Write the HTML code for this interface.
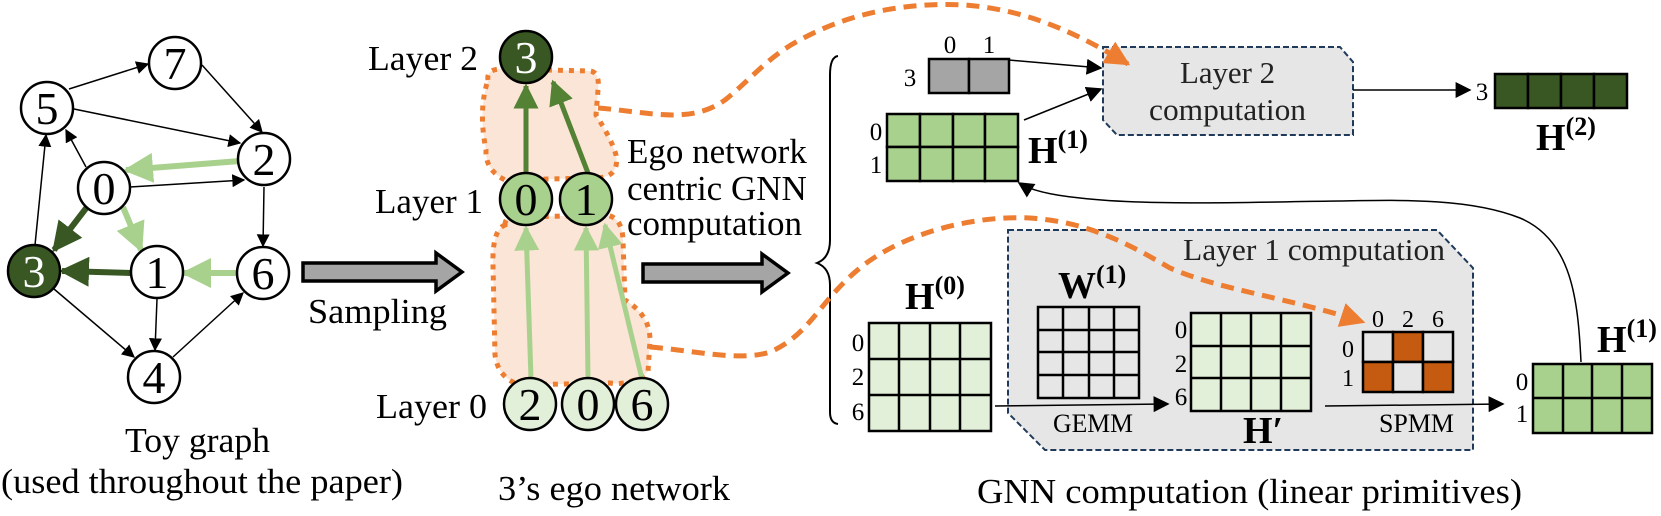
<!DOCTYPE html>
<html><head><meta charset="utf-8"><style>
html,body{margin:0;padding:0;background:#fff;}
svg{display:block;font-family:"Liberation Serif",serif;}
</style></head><body>
<svg width="1661" height="516" viewBox="0 0 1661 516" xmlns="http://www.w3.org/2000/svg">
<defs>
<marker id="a" viewBox="0 0 10 10" refX="9" refY="5" markerWidth="13" markerHeight="13" markerUnits="userSpaceOnUse" orient="auto"><path d="M0,0L10,5L0,10z" fill="#000"/></marker>
<marker id="ab" viewBox="0 0 10 10" refX="9" refY="5" markerWidth="16" markerHeight="16" markerUnits="userSpaceOnUse" orient="auto"><path d="M0,0L10,5L0,10z" fill="#000"/></marker>
<marker id="lg" viewBox="0 0 10 10" refX="9" refY="5" markerWidth="5" markerHeight="5" orient="auto"><path d="M0,0L10,5L0,10z" fill="#a9d18e"/></marker>
<marker id="dg" viewBox="0 0 10 10" refX="9" refY="5" markerWidth="5" markerHeight="5" orient="auto"><path d="M0,0L10,5L0,10z" fill="#548235"/></marker>
<marker id="dg2" viewBox="0 0 10 10" refX="9" refY="5" markerWidth="5" markerHeight="5" orient="auto"><path d="M0,0L10,5L0,10z" fill="#385723"/></marker>
<marker id="or" viewBox="0 0 10 10" refX="9" refY="5" markerWidth="5" markerHeight="5" orient="auto"><path d="M0,0L10,5L0,10z" fill="#ed7d31"/></marker>
</defs>

<g stroke="#000" stroke-width="1.5" fill="none">
<line x1="69" y1="89" x2="148" y2="64" marker-end="url(#a)"/>
<line x1="202" y1="65" x2="262" y2="132" marker-end="url(#a)"/>
<line x1="74" y1="109" x2="240" y2="143" marker-end="url(#a)"/>
<line x1="130" y1="187" x2="244" y2="180" marker-end="url(#a)"/>
<line x1="86" y1="167" x2="66" y2="130" marker-end="url(#a)"/>
<line x1="35" y1="245" x2="46" y2="135" marker-end="url(#a)"/>
<line x1="264" y1="187" x2="263" y2="246" marker-end="url(#a)"/>
<line x1="54" y1="289" x2="134" y2="357" marker-end="url(#a)"/>
<line x1="157" y1="299" x2="155" y2="350" marker-end="url(#a)"/>
<line x1="173" y1="357" x2="243" y2="293" marker-end="url(#a)"/>
</g>
<g fill="none" stroke-width="6">
<line x1="240" y1="161" x2="126" y2="170" stroke="#a9d18e" marker-end="url(#lg)"/>
<line x1="123" y1="207" x2="141" y2="250" stroke="#a9d18e" marker-end="url(#lg)"/>
<line x1="238" y1="273" x2="184" y2="273" stroke="#a9d18e" marker-end="url(#lg)"/>
<line x1="131" y1="273" x2="62" y2="271" stroke="#385723" marker-end="url(#dg2)"/>
<line x1="87" y1="207" x2="54" y2="250" stroke="#385723" marker-end="url(#dg2)"/>
</g>
<g stroke="#000" stroke-width="2.5" fill="#fff">
<circle cx="175" cy="63" r="26"/>
<circle cx="47" cy="108" r="26"/>
<circle cx="264" cy="159" r="26"/>
<circle cx="104" cy="188" r="26"/>
<circle cx="34" cy="271" r="26" fill="#385723"/>
<circle cx="157" cy="272" r="26"/>
<circle cx="263" cy="273" r="26"/>
<circle cx="154" cy="377" r="26"/>
</g>
<g font-size="46" text-anchor="middle">
<text x="175" y="79">7</text><text x="47" y="124">5</text><text x="264" y="175">2</text>
<text x="104" y="204">0</text><text x="34" y="287" fill="#fff">3</text><text x="157" y="288">1</text>
<text x="263" y="289">6</text><text x="154" y="393">4</text>
</g>
<g font-size="35">
<text x="125" y="452" textLength="145" lengthAdjust="spacingAndGlyphs">Toy graph</text>
<text x="1" y="493" textLength="402" lengthAdjust="spacingAndGlyphs">(used throughout the paper)</text>
<text x="498" y="500" textLength="232" lengthAdjust="spacingAndGlyphs">3’s ego network</text>
<text x="977" y="503" textLength="545" lengthAdjust="spacingAndGlyphs">GNN computation (linear primitives)</text>
</g>
<path d="M303,263H436V253L462,272L436,291V281H303Z" fill="#a5a5a5" stroke="#000" stroke-width="3.5"/>
<text x="308" y="323" font-size="35" textLength="139" lengthAdjust="spacingAndGlyphs">Sampling</text>

<path d="M488,80 Q486,68 505,69 L590,71 Q600,72 598,90 L596,115 Q612,140 616,155 Q620,178 595,178 L505,180 Q485,170 486,150 Q478,110 488,80Z" fill="#fbe5d6" stroke="#ed7d31" stroke-width="5" stroke-dasharray="5,6"/>
<path d="M505,225 Q505,213 525,217 L600,215 Q622,213 623,240 L625,300 Q650,315 650,340 L648,372 Q630,386 610,383 L520,385 Q498,378 495,355 L493,265 Q492,230 505,225Z" fill="#fbe5d6" stroke="#ed7d31" stroke-width="5" stroke-dasharray="5,6"/>
<g fill="none" stroke-width="5">
<line x1="526" y1="173" x2="526" y2="86" stroke="#548235" marker-end="url(#dg)"/>
<line x1="588" y1="173" x2="553" y2="82" stroke="#548235" marker-end="url(#dg)"/>
<line x1="531" y1="379" x2="526" y2="228" stroke="#a9d18e" marker-end="url(#lg)"/>
<line x1="588" y1="379" x2="586" y2="228" stroke="#a9d18e" marker-end="url(#lg)"/>
<line x1="642" y1="379" x2="605" y2="225" stroke="#a9d18e" marker-end="url(#lg)"/>
</g>
<g stroke="#000" stroke-width="2.5">
<circle cx="526" cy="57" r="26" fill="#385723"/>
<circle cx="526" cy="199" r="26" fill="#a9d18e"/>
<circle cx="586" cy="199" r="26" fill="#a9d18e"/>
<circle cx="530" cy="404" r="26" fill="#e2f0d9"/>
<circle cx="588" cy="404" r="26" fill="#e2f0d9"/>
<circle cx="642" cy="404" r="26" fill="#e2f0d9"/>
</g>
<g font-size="46" text-anchor="middle">
<text x="526" y="73" fill="#fff">3</text><text x="526" y="215">0</text><text x="586" y="215">1</text>
<text x="530" y="420">2</text><text x="588" y="420">0</text><text x="642" y="420">6</text>
</g>
<g font-size="35">
<text x="368" y="70" textLength="110" lengthAdjust="spacingAndGlyphs">Layer 2</text>
<text x="375" y="213" textLength="108" lengthAdjust="spacingAndGlyphs">Layer 1</text>
<text x="376" y="418" textLength="111" lengthAdjust="spacingAndGlyphs">Layer 0</text>
<text x="627" y="163">Ego network</text><text x="627" y="200">centric GNN</text><text x="627" y="235">computation</text>
</g>
<path d="M643,264H762V254L788,273L762,292V282H643Z" fill="#a5a5a5" stroke="#000" stroke-width="3.5"/>
<path d="M838,56 Q830,57 830,75 L830,240 Q830,258 817,263 Q830,268 830,285 L830,412 Q830,423 838,424" fill="none" stroke="#000" stroke-width="2"/>

<path d="M1103,47H1340L1353,62V135H1117L1103,120Z" fill="#e7e6e6" stroke="#1f3a5a" stroke-width="2" stroke-dasharray="6,3"/>
<text x="1180" y="83" font-size="31" fill="#222" textLength="95" lengthAdjust="spacingAndGlyphs">Layer 2</text>
<text x="1149" y="120" font-size="31" fill="#222" textLength="157" lengthAdjust="spacingAndGlyphs">computation</text>
<g stroke="#000" stroke-width="2.5">
<rect x="929" y="59" width="40" height="34" fill="#a5a5a5"/><rect x="969" y="59" width="40" height="34" fill="#a5a5a5"/>
</g>
<g font-size="25" text-anchor="middle"><text x="950" y="53">0</text><text x="989" y="53">1</text><text x="910" y="86">3</text></g>

<path d="M1008,230H1437L1473,268V450H1045L1008,413Z" fill="#e7e6e6" stroke="#1f3a5a" stroke-width="2" stroke-dasharray="6,3"/>
<text x="1183" y="260" font-size="31" fill="#222" textLength="262" lengthAdjust="spacingAndGlyphs">Layer 1 computation</text>

<g stroke="#000" stroke-width="1.5" fill="none">
<line x1="1009" y1="60" x2="1101" y2="68" marker-end="url(#ab)"/>
<line x1="1024" y1="120" x2="1101" y2="89" marker-end="url(#ab)"/>
<line x1="1353" y1="90" x2="1470" y2="90" marker-end="url(#ab)"/>
<line x1="995" y1="406" x2="1168" y2="404" marker-end="url(#ab)"/>
<line x1="1325" y1="406" x2="1503" y2="404" marker-end="url(#ab)"/>
<path d="M1581,362 C1578,300 1572,240 1520,218 C1470,198 1400,200 1340,201 C1250,202 1150,206 1080,198 C1050,195 1030,190 1019,183" marker-end="url(#ab)"/>
</g>
<g stroke="#000" stroke-width="2.5" fill="#a9d18e">
<rect x="887" y="114" width="33" height="33"/><rect x="920" y="114" width="33" height="33"/><rect x="953" y="114" width="32" height="33"/><rect x="985" y="114" width="33" height="33"/>
<rect x="887" y="147" width="33" height="34"/><rect x="920" y="147" width="33" height="34"/><rect x="953" y="147" width="32" height="34"/><rect x="985" y="147" width="33" height="34"/>
</g>
<g font-size="25" text-anchor="middle"><text x="876" y="140">0</text><text x="876" y="173">1</text></g>
<text x="1028" y="163" font-size="38" font-weight="bold">H<tspan font-size="26" dy="-15">(1)</tspan></text>
<g stroke="#000" stroke-width="2.5" fill="#385723">
<rect x="1495" y="74" width="33" height="34"/><rect x="1528" y="74" width="33" height="34"/><rect x="1561" y="74" width="33" height="34"/><rect x="1594" y="74" width="33" height="34"/>
</g>
<text x="1482" y="100" font-size="25" text-anchor="middle">3</text>
<text x="1536" y="150" font-size="38" font-weight="bold">H<tspan font-size="26" dy="-15">(2)</tspan></text>

<g stroke="#000" stroke-width="2.5" fill="#e2f0d9">
<rect x="869" y="323" width="122" height="108"/>
<line x1="899" y1="323" x2="899" y2="431"/><line x1="930" y1="323" x2="930" y2="431"/><line x1="960" y1="323" x2="960" y2="431"/>
<line x1="869" y1="359" x2="991" y2="359"/><line x1="869" y1="395" x2="991" y2="395"/>
</g>
<g font-size="25" text-anchor="middle"><text x="858" y="351">0</text><text x="858" y="385">2</text><text x="858" y="420">6</text></g>
<text x="905" y="309" font-size="38" font-weight="bold">H<tspan font-size="26" dy="-15">(0)</tspan></text>
<g stroke="#000" stroke-width="2.5" fill="#e7e6e6">
<rect x="1038" y="307" width="101" height="91"/>
<line x1="1063" y1="307" x2="1063" y2="398"/><line x1="1089" y1="307" x2="1089" y2="398"/><line x1="1114" y1="307" x2="1114" y2="398"/>
<line x1="1038" y1="330" x2="1139" y2="330"/><line x1="1038" y1="352" x2="1139" y2="352"/><line x1="1038" y1="375" x2="1139" y2="375"/>
</g>
<text x="1058" y="298" font-size="38" font-weight="bold">W<tspan font-size="26" dy="-15">(1)</tspan></text>
<g stroke="#000" stroke-width="2.5" fill="#e2f0d9">
<rect x="1191" y="313" width="120" height="98"/>
<line x1="1221" y1="313" x2="1221" y2="411"/><line x1="1251" y1="313" x2="1251" y2="411"/><line x1="1281" y1="313" x2="1281" y2="411"/>
<line x1="1191" y1="346" x2="1311" y2="346"/><line x1="1191" y1="378" x2="1311" y2="378"/>
</g>
<g font-size="25" text-anchor="middle"><text x="1181" y="338">0</text><text x="1181" y="372">2</text><text x="1181" y="405">6</text></g>
<text x="1243" y="443" font-size="38" font-weight="bold">H′</text>
<text x="1053" y="432" font-size="26" textLength="80" lengthAdjust="spacingAndGlyphs">GEMM</text>
<text x="1379" y="432" font-size="26" textLength="75" lengthAdjust="spacingAndGlyphs">SPMM</text>
<g stroke="#000" stroke-width="2.5">
<rect x="1363" y="332" width="30" height="30" fill="#e7e6e6"/><rect x="1393" y="332" width="30" height="30" fill="#c55a11"/><rect x="1423" y="332" width="30" height="30" fill="#e7e6e6"/>
<rect x="1363" y="362" width="30" height="30" fill="#c55a11"/><rect x="1393" y="362" width="30" height="30" fill="#e7e6e6"/><rect x="1423" y="362" width="30" height="30" fill="#c55a11"/>
</g>
<g font-size="24" text-anchor="middle"><text x="1378" y="327">0</text><text x="1408" y="327">2</text><text x="1438" y="327">6</text><text x="1348" y="357">0</text><text x="1348" y="386">1</text></g>
<g stroke="#000" stroke-width="2.5" fill="#a9d18e">
<rect x="1533" y="364" width="119" height="69"/>
<line x1="1563" y1="364" x2="1563" y2="433"/><line x1="1592" y1="364" x2="1592" y2="433"/><line x1="1622" y1="364" x2="1622" y2="433"/>
<line x1="1533" y1="398" x2="1652" y2="398"/>
</g>
<g font-size="25" text-anchor="middle"><text x="1522" y="390">0</text><text x="1522" y="422">1</text></g>
<text x="1597" y="352" font-size="38" font-weight="bold">H<tspan font-size="26" dy="-15">(1)</tspan></text>

<g fill="none" stroke="#ed7d31" stroke-width="5" stroke-dasharray="13,8">
<path d="M598,108 C650,112 690,125 725,100 C750,80 770,55 800,40 C850,12 910,2 965,5 C1030,10 1080,35 1128,64" marker-end="url(#or)"/>
<path d="M650,347 C690,350 740,362 770,352 C810,335 820,300 860,268 C900,235 970,215 1030,218 C1090,222 1130,245 1170,268 C1220,290 1290,298 1363,322" marker-end="url(#or)"/>
</g>
</svg>
</body></html>
